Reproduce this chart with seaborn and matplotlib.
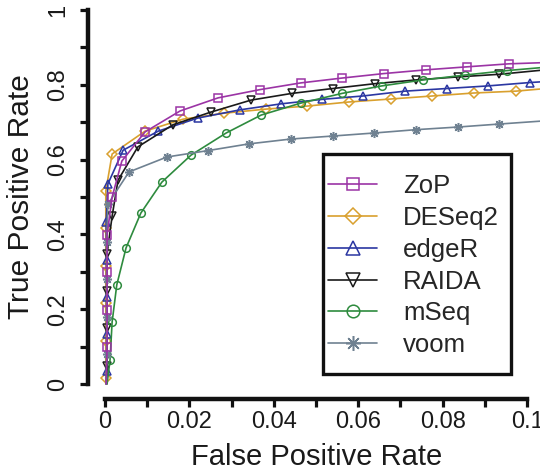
import numpy as np
import pandas as pd
import matplotlib
matplotlib.use('Agg')
import matplotlib.pyplot as plt
from matplotlib.lines import Line2D
from matplotlib.patches import Rectangle
import seaborn as sns

# ROC points (first/last entries are the line ends, the rest carry markers)
zop_fpr = [0.0003, 0.0005, 0.0005, 0.0005, 0.0005, 0.0017, 0.0040, 0.0095, 0.0178, 0.0268,
           0.0367, 0.0464, 0.0562, 0.0661, 0.0761, 0.0858, 0.0957, 0.1035]
zop_tpr = [0.0, 0.099, 0.198, 0.299, 0.398, 0.500, 0.596, 0.674, 0.730, 0.765,
           0.787, 0.805, 0.818, 0.830, 0.840, 0.848, 0.856, 0.859]

deseq2_fpr = [0.0002, 0.0002, 0.0002, 0.0002, 0.0002, 0.0002, 0.0002, 0.0017, 0.0095, 0.0185,
              0.0282, 0.0382, 0.0479, 0.0578, 0.0678, 0.0775, 0.0874, 0.0974, 0.1035]
deseq2_tpr = [0.0, 0.016, 0.115, 0.217, 0.316, 0.417, 0.516, 0.615, 0.676, 0.708,
              0.724, 0.735, 0.743, 0.754, 0.762, 0.770, 0.778, 0.783, 0.789]

edger_fpr = [0.0003, 0.0004, 0.0004, 0.0004, 0.0004, 0.0003, 0.0007, 0.0043, 0.0126, 0.0220,
             0.0320, 0.0417, 0.0514, 0.0611, 0.0711, 0.0810, 0.0908, 0.1007, 0.1035]
edger_tpr = [0.0, 0.035, 0.134, 0.233, 0.332, 0.433, 0.535, 0.625, 0.676, 0.711,
             0.733, 0.749, 0.761, 0.770, 0.783, 0.790, 0.797, 0.806, 0.808]

raida_fpr = [0.0004, 0.0005, 0.0005, 0.0005, 0.0005, 0.0017, 0.0031, 0.0078, 0.0161, 0.0251,
             0.0346, 0.0443, 0.0540, 0.0640, 0.0737, 0.0836, 0.0934, 0.1035]
raida_tpr = [0.0, 0.048, 0.150, 0.249, 0.348, 0.449, 0.545, 0.634, 0.693, 0.727,
             0.759, 0.777, 0.790, 0.803, 0.813, 0.821, 0.828, 0.839]

mseq_fpr = [0.0005, 0.0012, 0.0017, 0.0028, 0.0050, 0.0085, 0.0135, 0.0204, 0.0287, 0.0370,
            0.0464, 0.0562, 0.0656, 0.0754, 0.0853, 0.0953, 0.1035]
mseq_tpr = [0.0, 0.064, 0.166, 0.265, 0.364, 0.457, 0.540, 0.612, 0.671, 0.719,
            0.751, 0.777, 0.797, 0.813, 0.826, 0.838, 0.846]

voom_fpr = [0.0003, 0.0004, 0.0004, 0.0004, 0.0004, 0.0007, 0.0057, 0.0147, 0.0244, 0.0341,
            0.0441, 0.0540, 0.0637, 0.0737, 0.0836, 0.0934, 0.1035]
voom_tpr = [0.0, 0.080, 0.179, 0.281, 0.380, 0.481, 0.567, 0.607, 0.624, 0.642,
            0.655, 0.663, 0.671, 0.680, 0.687, 0.695, 0.703]

methods = ['ZoP', 'DESeq2', 'edgeR', 'RAIDA', 'mSeq', 'voom']
curves = {
    'ZoP': (zop_fpr, zop_tpr),
    'DESeq2': (deseq2_fpr, deseq2_tpr),
    'edgeR': (edger_fpr, edger_tpr),
    'RAIDA': (raida_fpr, raida_tpr),
    'mSeq': (mseq_fpr, mseq_tpr),
    'voom': (voom_fpr, voom_tpr),
}
colors = {'ZoP': '#9B34A5', 'DESeq2': '#D9A02E', 'edgeR': '#2B37A2',
          'RAIDA': '#1A1A1A', 'mSeq': '#2E8B3E', 'voom': '#6F8191'}
markers = {'ZoP': 's', 'DESeq2': 'D', 'edgeR': '^', 'RAIDA': 'v',
           'mSeq': 'o', 'voom': (8, 2, 0)}
msizes = {'ZoP': 5.2, 'DESeq2': 5.0, 'edgeR': 6.0, 'RAIDA': 6.0, 'mSeq': 5.5, 'voom': 6.5}

sns.set_theme(style='ticks')
plt.rcParams['font.family'] = ['Liberation Sans', 'DejaVu Sans']

fig = plt.figure(figsize=(5.4, 4.76), dpi=100)
ax = fig.add_axes([0.1631, 0.1618, 0.8441, 0.8487])

# ZoP drawn last so it sits on top along the y axis
for i, m in enumerate(['DESeq2', 'edgeR', 'RAIDA', 'mSeq', 'voom', 'ZoP']):
    fpr, tpr = curves[m]
    df = pd.DataFrame({'fpr': fpr, 'tpr': tpr})
    sns.lineplot(data=df, x='fpr', y='tpr', ax=ax, estimator=None, sort=False,
                 color=colors[m], lw=1.2, marker=markers[m], ms=msizes[m],
                 mfc='none', mec=colors[m], mew=1.1,
                 markevery=list(range(1, len(fpr) - 1)), zorder=2 + i)

ax.set_xlim(-0.004, 0.104)
ax.set_ylim(-0.04, 1.04)
sns.despine(ax=ax)
for s in ['left', 'bottom']:
    ax.spines[s].set_linewidth(3.2)
    ax.spines[s].set_color('#111111')
ax.spines['left'].set_bounds(0, 1)
ax.spines['bottom'].set_bounds(0, 0.1)

xt = np.round(np.arange(0, 0.1001, 0.01), 2)
ax.set_xticks(xt)
ax.set_xticklabels(['0', '', '0.02', '', '0.04', '', '0.06', '', '0.08', '', '0.1'])
yt = np.round(np.arange(0, 1.001, 0.1), 1)
ax.set_yticks(yt)
ax.set_yticklabels(['0', '', '0.2', '', '0.4', '', '0.6', '', '0.8', '', '1'])
ax.tick_params(axis='both', width=2.3, length=5.8, color='#111111',
               labelsize=17, labelcolor='#1a1a1a')
ax.tick_params(axis='x', pad=3)
ax.tick_params(axis='y', pad=8)
plt.setp(ax.get_yticklabels(), rotation=90, va='center')

ax.set_xlabel('False Positive Rate', fontsize=21, color='#1a1a1a')
ax.set_ylabel('True Positive Rate', fontsize=21.5, color='#1a1a1a')
ax.xaxis.set_label_coords(0.501, -0.108)
ax.yaxis.set_label_coords(-0.116, 0.5)

handles = [Line2D([], [], color=colors[m], lw=1.2, marker=markers[m],
                  ms=msizes[m] * 1.65, mfc='none', mec=colors[m], mew=1.1)
           for m in methods]
ax.legend(handles, methods, loc='center', bbox_to_anchor=(0.714, 0.330),
          frameon=False, fontsize=18.5, handlelength=1.9, handletextpad=1.0,
          labelspacing=0.30, borderpad=0.0)
ax.add_patch(Rectangle((0.515, 0.062), 0.413, 0.544, transform=ax.transAxes,
                       fill=False, lw=2.4, ec='#111111', clip_on=False, zorder=20))

fig.savefig('out.png', dpi=100)
